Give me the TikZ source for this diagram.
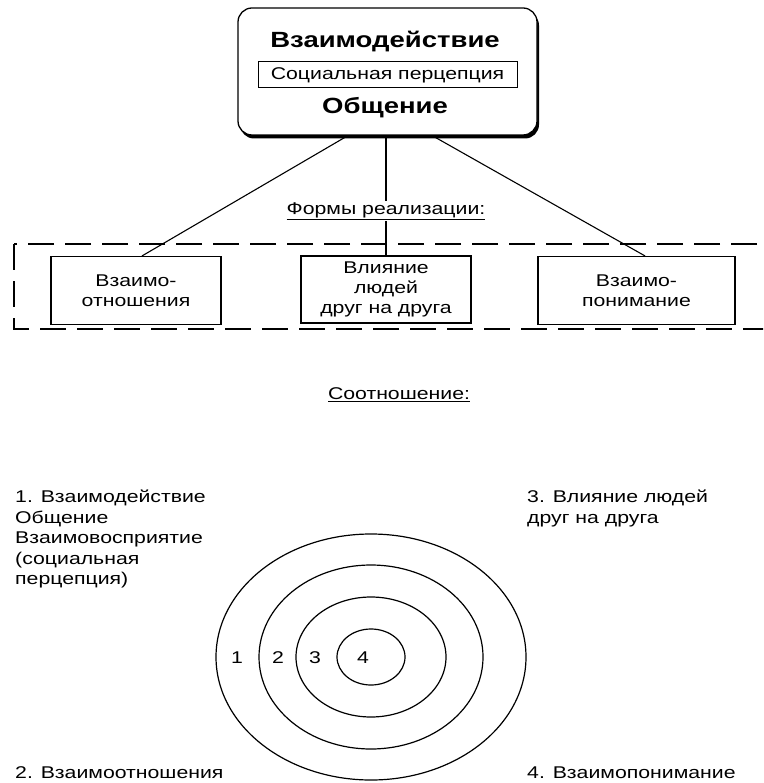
\documentclass[tikz,border=0pt]{standalone}
\usepackage{fontspec}
\setmainfont{Liberation Sans}[FakeStretch=1.25]
\usetikzlibrary{shadows,calc,shapes.geometric}
\begin{document}
\begin{tikzpicture}[x=1pt,y=-1pt,
  box/.style={draw, line width=1.1pt, minimum width=170pt, minimum height=68pt, inner sep=0pt, align=center, font=\fontsize{17}{20}\selectfont},
  conn/.style={line width=1.1pt},
  lbl/.style={font=\fontsize{17}{20.5}\selectfont, inner sep=0pt, align=left},
  ring/.style={draw, ellipse, line width=1.2pt, inner sep=0pt},
  num/.style={font=\fontsize{17}{20}\selectfont, inner sep=0pt},
  bigt/.style={font=\bfseries\fontsize{22}{24}\selectfont, inner sep=0pt}]
\useasboundingbox (0,0) rectangle (763,783);
\fill[white] (0,0) rectangle (763,783);

% top box
\node[draw, line width=1.3pt, rounded corners=14pt, minimum width=299pt, minimum height=127pt,
      fill=white, drop shadow={shadow xshift=2pt, shadow yshift=-3.5pt, fill=black, opacity=1}] (top) at (387.5,71.5) {};
\node[bigt] (t1) at (385,42) {Взаимодействие};
\node[draw, line width=1pt, minimum width=259pt, minimum height=26pt, inner sep=0pt,
      font=\fontsize{17}{20}\selectfont] (sp) at (387.5,75) {Социальная перцепция};
\node[bigt] (t2) at (385,108) {Общение};

% dashed frame
\begin{scope}
\clip (0,0) rectangle (763,783);
\draw[dash pattern=on 26pt off 11pt, line width=1.1pt] (14,244) rectangle (800,329);
\end{scope}

% boxes
\node[box] (b1) at (136,290.5) {Взаимо-\\отношения};
\node[box, minimum height=67pt] (b2) at (386,289.5) {Влияние\\людей\\друг на друга};
\node[box, minimum width=197pt] (b3) at (636.5,290.5) {Взаимо-\\понимание};

% connectors
\draw[conn] ($(top.south west)!0.368!(top.south east)$) -- ($(b1.north west)!0.535!(b1.north east)$);
\draw[conn] (b2.north |- top.south) -- (b2.north);
\draw[conn] ($(top.south west)!0.649!(top.south east)$) -- ($(b3.north west)!0.543!(b3.north east)$);

\node[fill=white, inner sep=1.5pt, font=\fontsize{17}{20}\selectfont] (forms) at (386,211) {\underline{Формы реализации:}};

\node[font=\fontsize{17}{20}\selectfont, inner sep=0pt] (rel) at (399,395) {\underline{Соотношение:}};

% rings
\node[ring, minimum width=310pt, minimum height=246pt] (c1) at (371,657) {};
\node[ring, minimum width=224pt, minimum height=184pt] (c2) at (371,657) {};
\node[ring, minimum width=150pt, minimum height=120pt] (c3) at (371,657) {};
\node[ring, minimum width=68pt, minimum height=56pt] (c4) at (371,657) {};
\node[num] (n1) at (237,658) {1};
\node[num] (n2) at (278,658) {2};
\node[num] (n3) at (315,658) {3};
\node[num] (n4) at (363,658) {4};

% labels
\node[lbl, anchor=north west] (l1) at (15,490) {1. Взаимодействие\\Общение\\Взаимовосприятие\\(социальная\\перцепция)};
\node[lbl, anchor=north west] (l3) at (527,490) {3. Влияние людей\\друг на друга};
\node[lbl, anchor=west] (l2) at (15,773) {2. Взаимоотношения};
\node[lbl, anchor=west] (l4) at (527,773) {4. Взаимопонимание};
\end{tikzpicture}
\end{document}
